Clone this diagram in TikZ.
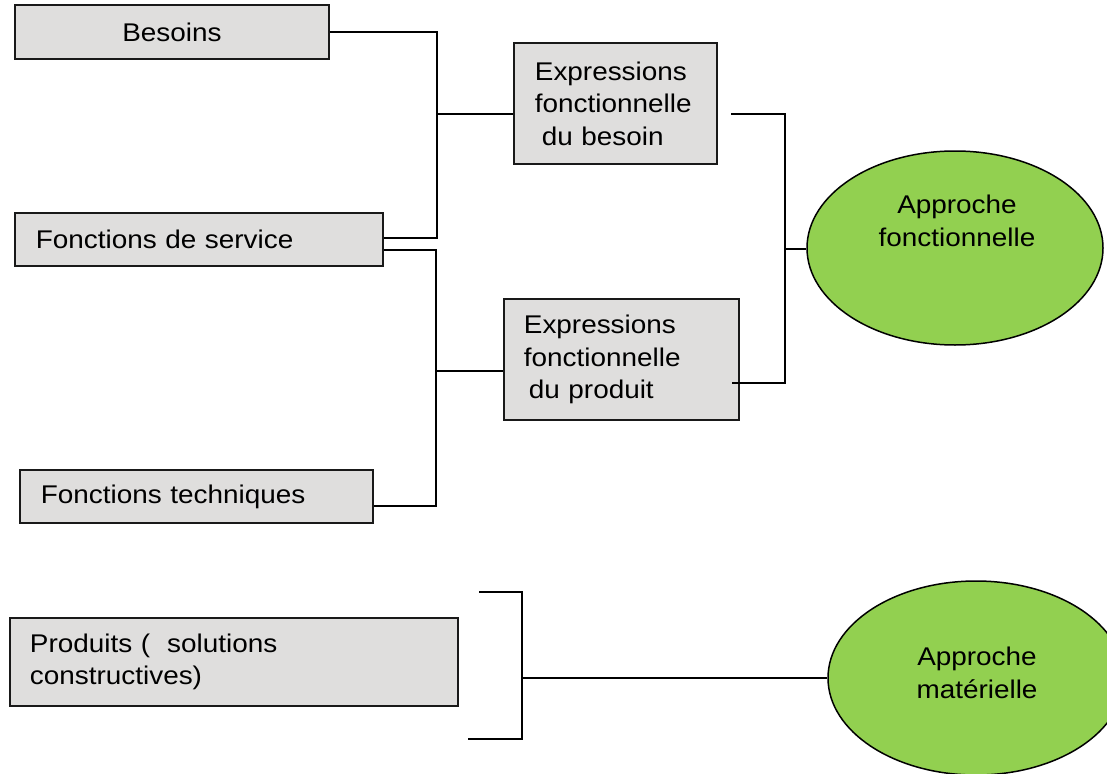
\documentclass[tikz,border=0pt]{standalone}
\usepackage{fontspec}
\setmainfont{Liberation Sans}[FakeStretch=1.09]
\usetikzlibrary{shapes.geometric}
\definecolor{boxgray}{HTML}{DFDEDD}
\definecolor{okgreen}{HTML}{92D050}
\tikzset{
  box/.style={draw=black!90, line width=1.8pt, fill=boxgray, anchor=north west,
    font=\fontsize{25.6pt}{32.5pt}\selectfont, inner ysep=0pt},
  conn/.style={draw=black, line width=1.8pt},
  oval/.style={ellipse, draw=black, line width=1.5pt, fill=okgreen,
    minimum width=296pt, minimum height=194pt, inner sep=0pt},
  ovaltext/.style={align=center, font=\fontsize{25.6pt}{32.5pt}\selectfont, inner sep=0pt}
}
\begin{document}
\begin{tikzpicture}[x=1pt,y=-1pt]
\useasboundingbox (0,0) rectangle (1107,773);
\clip (0,0) rectangle (1107,773);
% boxes
\node[box, minimum width=314pt, minimum height=54pt, text width=290pt, inner xsep=12pt, align=center] (bes) at (14,4) {Besoins};
\node[box, minimum width=368pt, minimum height=53pt, text width=326pt, inner xsep=21pt, align=left] (fs) at (14,212) {Fonctions de service};
\node[box, minimum width=353pt, minimum height=53pt, text width=311pt, inner xsep=21pt, align=left] (ft) at (19,469) {Fonctions techniques};
\node[box, minimum width=448pt, minimum height=88pt, text width=408pt, inner xsep=20pt, align=left] (pr) at (9,617) {Produits (\ \ solutions\\constructives)};
\node[box, minimum width=203pt, minimum height=121pt, text width=161pt, inner xsep=21pt, align=left] (eb) at (513,42) {Expressions\\fonctionnelle\\\hspace*{7pt}du besoin};
\node[box, minimum width=235pt, minimum height=121pt, text width=195pt, inner xsep=20pt, align=left] (ep) at (503,298) {Expressions\\fonctionnelle\\\hspace*{5pt}du produit};
% ovals
\node[oval] (af) at (955,248) {};
\node[ovaltext] (aft) at (957,221) {Approche\\fonctionnelle};
\node[oval] (am) at (976,678) {};
\node[ovaltext] (amt) at (977,673) {Approche\\matérielle};
% junctions
\coordinate (j1) at (437,114);
\coordinate (j2) at (436,371);
\coordinate (j3) at (785,249);
\coordinate (j4) at (522,678);
\coordinate (ebout) at (731,114);
\coordinate (epout) at (732,383);
\coordinate (bt) at (479,592);
\coordinate (bb) at (468,739);
% connectors
\draw[conn] (bes.east) -| (j1) |- ([yshift=1.5pt]fs.east);
\draw[conn] (j1) -- (j1 -| eb.west);
\draw[conn] ([yshift=-10.5pt]fs.east) -| (j2) |- ([yshift=-9.5pt]ft.east);
\draw[conn] (j2) -- (j2 -| ep.west);
\draw[conn] (ebout) -| (j3) |- (epout);
\draw[conn] (j3) -- (j3 -| af.west);
\draw[conn] (bt) -| (bb -| j4) -- (bb);
\draw[conn] (j4) -- (j4 -| am.west);
\end{tikzpicture}
\end{document}
